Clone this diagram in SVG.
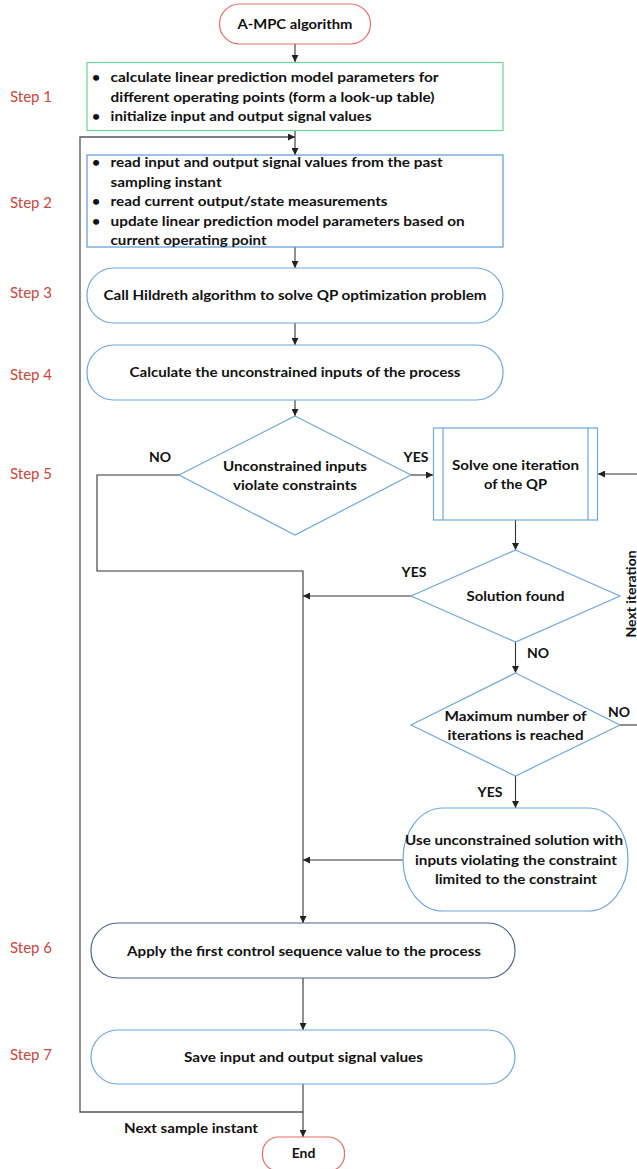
<svg xmlns="http://www.w3.org/2000/svg" width="637" height="1169" viewBox="0 0 637 1169">
<defs>
<marker id="ah" viewBox="0 0 10 10" refX="10" refY="5" markerWidth="7" markerHeight="7" markerUnits="userSpaceOnUse" orient="auto">
<path d="M0,0 L10,5 L0,10 z" fill="#222"/>
</marker>
<style>
.t{font-family:Lato,"Liberation Sans",sans-serif;font-weight:bold;font-size:14px;fill:#111}
.c{text-anchor:middle}
.s{font-family:Lato,"Liberation Sans",sans-serif;font-size:15px;fill:#c9473d}
.ln{fill:none;stroke:#333;stroke-width:1.1}
.ar{fill:none;stroke:#333;stroke-width:1.1;marker-end:url(#ah)}
.term{fill:#fff;stroke:#e46a6a;stroke-width:1.2}
.blue{fill:#fff;stroke:#6fa8dc;stroke-width:1.2}
.dark{fill:#fff;stroke:#52628a;stroke-width:1.2}
.green{fill:#fff;stroke:#6fd49a;stroke-width:1.2}
</style>
</defs>
<rect width="637" height="1169" fill="#fff"/>

<g id="labels">
<text class="s" x="10" y="102">Step 1</text>
<text class="s" x="10" y="208">Step 2</text>
<text class="s" x="10" y="298">Step 3</text>
<text class="s" x="10" y="380">Step 4</text>
<text class="s" x="10" y="479">Step 5</text>
<text class="s" x="10" y="953">Step 6</text>
<text class="s" x="10" y="1060">Step 7</text>
</g>

<g id="connectors">
<line class="ar" x1="295" y1="44" x2="295" y2="62"/>
<line class="ar" x1="295" y1="130.5" x2="295" y2="155"/>
<polyline class="ar" points="303,1112 80,1112 80,137 295,137" style="stroke:#555;stroke-width:1.3"/>
<line class="ar" x1="295" y1="247" x2="295" y2="268"/>
<line class="ar" x1="295" y1="323" x2="295" y2="345"/>
<line class="ar" x1="295" y1="400" x2="295" y2="416"/>
<polyline class="ar" points="179,475 97,475 97,571 303,571 303,923"/>
<line class="ar" x1="411" y1="475" x2="433" y2="475"/>
<line class="ar" x1="637" y1="474" x2="598" y2="474"/>
<line class="ar" x1="515.5" y1="520" x2="515.5" y2="550"/>
<line class="ar" x1="411" y1="596" x2="303" y2="596"/>
<line class="ar" x1="515.5" y1="642" x2="515.5" y2="673"/>
<line class="ln" x1="620" y1="725" x2="637" y2="725"/>
<line class="ar" x1="515.5" y1="776" x2="515.5" y2="808"/>
<line class="ar" x1="403" y1="860" x2="303" y2="860"/>
<line class="ar" x1="303" y1="978" x2="303" y2="1030"/>
<line class="ar" x1="303" y1="1084" x2="303" y2="1137"/>
<text class="t c" x="160" y="462">NO</text>
<text class="t c" x="416" y="462">YES</text>
<text class="t c" x="414" y="577">YES</text>
<text class="t c" x="538" y="658">NO</text>
<text class="t c" x="619" y="717">NO</text>
<text class="t c" x="490" y="797">YES</text>
<text class="t" x="124" y="1133" textLength="134" lengthAdjust="spacingAndGlyphs">Next sample instant</text>
<text class="t c" transform="translate(636,594) rotate(-90)">Next iteration</text>
</g>

<g id="start">
<rect class="term" x="219.5" y="4" width="151" height="40" rx="20"/>
<text class="t c" x="295" y="29" textLength="115" lengthAdjust="spacingAndGlyphs">A-MPC algorithm</text>
</g>

<g id="step1">
<rect class="green" x="87" y="62.5" width="416" height="68"/>
<text class="t" x="92" y="82">•</text>
<text class="t" x="110.6" y="82" textLength="328" lengthAdjust="spacingAndGlyphs">calculate  linear prediction model parameters for</text>
<text class="t" x="110.6" y="102" textLength="324" lengthAdjust="spacingAndGlyphs">different operating points (form a look-up table)</text>
<text class="t" x="92" y="121">•</text>
<text class="t" x="110.6" y="121" textLength="261" lengthAdjust="spacingAndGlyphs">initialize input and output signal values</text>
</g>

<g id="step2">
<rect class="blue" x="87" y="155" width="416" height="92" style="stroke:#5b9bd5"/>
<text class="t" x="92" y="167">•</text>
<text class="t" x="110.6" y="167" textLength="332" lengthAdjust="spacingAndGlyphs">read input and output signal values from the past</text>
<text class="t" x="110.6" y="187" textLength="111" lengthAdjust="spacingAndGlyphs">sampling instant</text>
<text class="t" x="92" y="206">•</text>
<text class="t" x="110.6" y="206" textLength="277" lengthAdjust="spacingAndGlyphs">read current output/state measurements</text>
<text class="t" x="92" y="226">•</text>
<text class="t" x="110.6" y="226" textLength="354" lengthAdjust="spacingAndGlyphs">update linear prediction model parameters based on</text>
<text class="t" x="110.6" y="245" textLength="156" lengthAdjust="spacingAndGlyphs">current operating point</text>
</g>

<g id="step3">
<rect class="blue" x="87" y="268" width="416" height="55" rx="27"/>
<text class="t c" x="295" y="300" textLength="383" lengthAdjust="spacingAndGlyphs">Call Hildreth algorithm to solve QP optimization problem</text>
</g>

<g id="step4">
<rect class="blue" x="87" y="345" width="416" height="55" rx="27"/>
<text class="t c" x="295" y="377" textLength="331" lengthAdjust="spacingAndGlyphs">Calculate the unconstrained inputs of the process</text>
</g>

<g id="decision1">
<polygon class="blue" points="295,416 411,475 295,535 179,475"/>
<text class="t c" x="295" y="471" textLength="144" lengthAdjust="spacingAndGlyphs">Unconstrained inputs</text>
<text class="t c" x="295" y="490" textLength="124" lengthAdjust="spacingAndGlyphs">violate constraints</text>
</g>

<g id="solveQP">
<rect class="blue" x="433.5" y="428" width="164" height="92"/>
<line class="blue" x1="443" y1="428" x2="443" y2="520"/>
<line class="blue" x1="588" y1="428" x2="588" y2="520"/>
<text class="t c" x="515.5" y="470" textLength="127" lengthAdjust="spacingAndGlyphs">Solve one iteration</text>
<text class="t c" x="515.5" y="489" textLength="63" lengthAdjust="spacingAndGlyphs">of the QP</text>
</g>

<g id="decision2">
<polygon class="blue" points="515.5,550 620,596 515.5,642 411,596"/>
<text class="t c" x="515.5" y="601" textLength="98" lengthAdjust="spacingAndGlyphs">Solution found</text>
</g>

<g id="decision3">
<polygon class="blue" points="515.5,673 620,725 515.5,776 411,725"/>
<text class="t c" x="515.5" y="721" textLength="142" lengthAdjust="spacingAndGlyphs">Maximum number of</text>
<text class="t c" x="515.5" y="740" textLength="136" lengthAdjust="spacingAndGlyphs">iterations is reached</text>
</g>

<g id="useUnconstrained">
<rect class="blue" x="403" y="808" width="225" height="103" rx="40" ry="51"/>
<text class="t c" x="514" y="845" textLength="218" lengthAdjust="spacingAndGlyphs">Use unconstrained solution with</text>
<text class="t c" x="516" y="865" textLength="202" lengthAdjust="spacingAndGlyphs">inputs violating the constraint</text>
<text class="t c" x="516" y="884" textLength="162" lengthAdjust="spacingAndGlyphs">limited to the constraint</text>
</g>

<g id="step6">
<rect class="dark" x="91" y="923" width="424" height="55" rx="27"/>
<text class="t c" x="304" y="956" textLength="354" lengthAdjust="spacingAndGlyphs">Apply the first control sequence value to the process</text>
</g>

<g id="step7">
<rect class="blue" x="91" y="1030" width="424" height="54" rx="27"/>
<text class="t c" x="303.5" y="1062" textLength="239" lengthAdjust="spacingAndGlyphs">Save input and output signal values</text>
</g>

<g id="end">
<rect class="term" x="262.5" y="1137" width="82" height="34" rx="16"/>
<text class="t c" x="303.5" y="1158">End</text>
</g>
</svg>
